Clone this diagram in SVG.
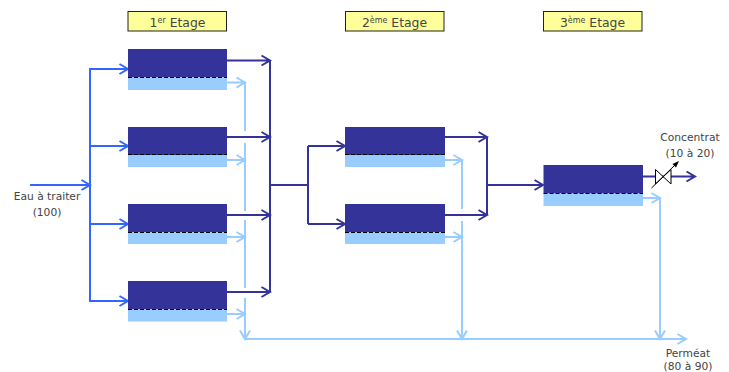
<svg xmlns="http://www.w3.org/2000/svg" width="729" height="372" viewBox="0 0 729 372">
<style>
text{font-family:"DejaVu Sans",sans-serif;font-size:10.7px;fill:#444;text-anchor:middle}
.t{font-size:12.4px}
.s{font-size:8px}
.stage{fill:#ffff99;stroke:#222;stroke-width:1}
.c{fill:#333399}.p{fill:#99ccff}
.m{stroke:#000;stroke-width:1;stroke-dasharray:4 2;fill:none}
g#connectors path{fill:none;stroke-width:2}
.feed{stroke:#3366ff}.conc{stroke:#333399}.perm{stroke:#99ccff}
</style>
<g id="stage1"><rect class="stage" x="128" y="11.5" width="98.5" height="19.5"/><text class="t" x="177.5" y="27">1<tspan class="s" dy="-4.5">er</tspan><tspan dy="4.5"> Etage</tspan></text></g>
<g id="stage2"><rect class="stage" x="345.5" y="11.5" width="98.5" height="19.5"/><text class="t" x="394.5" y="27">2<tspan class="s" dy="-4.5">ème</tspan><tspan dy="4.5"> Etage</tspan></text></g>
<g id="stage3"><rect class="stage" x="543.5" y="11.5" width="98.5" height="19.5"/><text class="t" x="592.5" y="27">3<tspan class="s" dy="-4.5">ème</tspan><tspan dy="4.5"> Etage</tspan></text></g>
<g id="connectors">
<path class="feed" d="M30 185H90M81.500 180L90 185L81.500 190M128 69H90V301H128M90 146H128M90 224H128M119.500 64L128 69L119.500 74M119.500 141L128 146L119.500 151M119.500 219L128 224L119.500 229M119.500 296L128 301L119.500 306"/>
<path class="perm" d="M227 82.500H245M236.500 77.500L245 82.500L236.500 87.500M227 160H245M236.500 155L245 160L236.500 165M227 237H245M236.500 232L245 237L236.500 242M227 314H245M236.500 309L245 314L236.500 319M245 82V131M245 143V211M245 220V288M245 298V339M240 330.500L245 339L250 330.500M245 339H686M677.500 334L686 339L677.500 344M445 160H462M453.500 155L462 160L453.500 165M445 237H462M453.500 232L462 237L453.500 242M462 160V209M462 221V339M457 330.500L462 339L467 330.500M643 198H660M651.500 193L660 198L651.500 203M660 198V339M655 330.500L660 339L665 330.500"/>
<path class="conc" d="M227 60.500H270M261.500 55.500L270 60.500L261.500 65.500M227 137H270M261.500 132L270 137L261.500 142M227 215H270M261.500 210L270 215L261.500 220M227 292H270M261.500 287L270 292L261.500 297M270 60V292M270 185H308M308 146V224M308 146H345M308 224H345M336.500 141L345 146L336.500 151M336.500 219L345 224L336.500 229M445 137H487M478.500 132L487 137L478.500 142M445 215H487M478.500 210L487 215L478.500 220M487 137V215M487 185H543M534.500 180L543 185L534.500 190M643 176.500H695M686.500 171.500L695 176.500L686.500 181.500"/>
</g>
<g id="m1"><rect class="c" x="128" y="49" width="99" height="28"/><rect class="p" x="128" y="77" width="99" height="13"/><path class="m" d="M128 77.500H227"/></g>
<g id="m2"><rect class="c" x="128" y="127" width="99" height="28"/><rect class="p" x="128" y="155" width="99" height="12"/><path class="m" d="M128 154.500H227"/></g>
<g id="m3"><rect class="c" x="128" y="204" width="99" height="28"/><rect class="p" x="128" y="232" width="99" height="12"/><path class="m" d="M128 232.500H227"/></g>
<g id="m4"><rect class="c" x="128" y="281" width="99" height="28"/><rect class="p" x="128" y="309" width="99" height="12.500"/><path class="m" d="M128 309.500H227"/></g>
<g id="m5"><rect class="c" x="345" y="127" width="100" height="28"/><rect class="p" x="345" y="155" width="100" height="12"/><path class="m" d="M345 154.500H445"/></g>
<g id="m6"><rect class="c" x="345" y="204" width="100" height="28"/><rect class="p" x="345" y="232" width="100" height="12"/><path class="m" d="M345 232.500H445"/></g>
<g id="m7"><rect class="c" x="543.500" y="165" width="99.500" height="28"/><rect class="p" x="543.500" y="193" width="99.500" height="13"/><path class="m" d="M543.500 193.500H643"/></g>
<g id="valve"><path d="M655.500 169.500V184L671 169.500V184Z" fill="#fff" stroke="#000" stroke-width="1"/><path d="M651.500 188L678 162" fill="none" stroke="#000" stroke-width="1"/><path d="M679 161L672.500 164L676 167.500Z" fill="#000"/></g>
<g id="feed-label"><text x="47" y="199.500">Eau à traiter</text><text x="47" y="216">(100)</text></g>
<g id="conc-label"><text x="690" y="141">Concentrat</text><text x="690" y="157">(10 à 20)</text></g>
<g id="perm-label"><text x="688" y="357">Perméat</text><text x="688" y="369.500">(80 à 90)</text></g>
</svg>
